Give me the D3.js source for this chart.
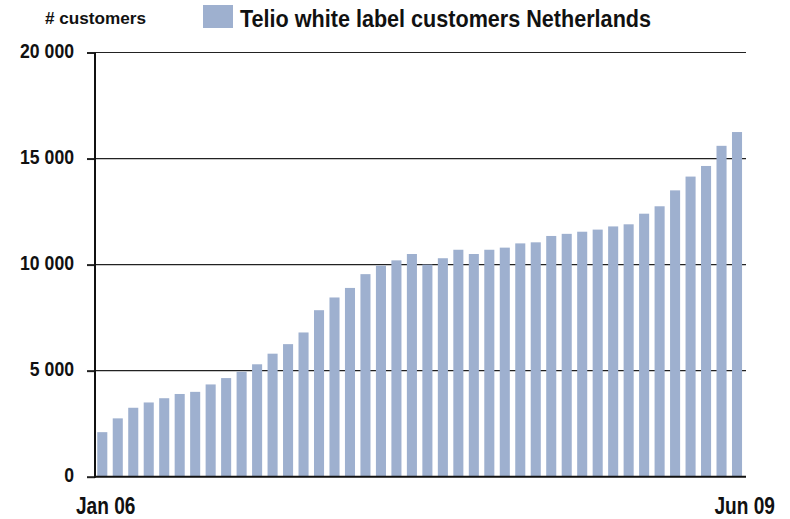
<!doctype html>
<html>
<head>
  <meta charset="utf-8">
  <script src="https://d3js.org/d3.v7.min.js"></script>
  <style>
    body { margin: 0; background: #fff; }
    text { font-family: "Liberation Sans", Arial, sans-serif; font-weight: bold; fill: #111; }
  </style>
</head>
<body>
<script>
  // monthly customers, Jan 06 .. Jun 09
  var months = d3.range(42).map(function(i){ return "m" + i; });
  var customers = [
    2100, 2750, 3250, 3500, 3700, 3900, 4000, 4350, 4650, 4950,
    5300, 5800, 6250, 6800, 7850, 8450, 8900, 9550, 9950, 10200,
    10500, 10000, 10300, 10700, 10500, 10700, 10800, 11000, 11050, 11350,
    11450, 11550, 11650, 11800, 11900, 12400, 12750, 13500, 14150, 14650,
    15600, 16250
  ];
  var yTicks = [0, 5000, 10000, 15000, 20000];
  var xLabels = ["Jan 06", "Jun 09"];
  var seriesName = "Telio white label customers Netherlands";
  var unitLabel = "# customers";
  var barColor = "#9eb0cf";

  var w = 790, h = 519;
  var svg = d3.select("body").append("svg")
    .attr("width", w)
    .attr("height", h);

  // the original uses a condensed face, so squeeze the text horizontally
  function squeeze(sel, f) {
    sel.each(function(){
      var l = this.getComputedTextLength();
      d3.select(this).attr("textLength", l * f).attr("lengthAdjust", "spacingAndGlyphs");
    });
  }

  var x = d3.scaleBand()
    .domain(months)
    .range([95.4, 743.9])
    .paddingInner(0.35)
    .paddingOuter(0.12);

  var y = d3.scaleLinear()
    .domain([0, 20000])
    .range([476.7, 52.5]);

  // grid lines
  svg.selectAll(".grid")
    .data(yTicks.filter(function(d){ return d > 0; }))
    .enter().append("line")
      .attr("class", "grid")
      .attr("x1", 95).attr("x2", 746)
      .attr("y1", function(d){ return y(d); })
      .attr("y2", function(d){ return y(d); })
      .style("stroke", "#222")
      .style("stroke-width", 1.2);

  svg.selectAll(".bar")
    .data(customers)
    .enter().append("rect")
      .attr("class", "bar")
      .attr("x", function(d, i){ return x(months[i]); })
      .attr("width", x.bandwidth())
      .attr("y", function(d){ return y(d); })
      .attr("height", function(d){ return y(0) - y(d); })
      .style("fill", barColor);

  // y axis
  var yAxis = d3.axisLeft(y)
    .tickValues(yTicks)
    .tickSize(8)
    .tickPadding(13)
    .tickFormat(function(d){ return d3.format(",")(d).replace(/,/g, " "); });

  var ga = svg.append("g")
    .attr("transform", "translate(95,0)")
    .call(yAxis);
  ga.select(".domain").remove();
  ga.selectAll(".tick line").style("stroke", "#222").style("stroke-width", 2);
  ga.selectAll(".tick text")
    .attr("dy", "0.24em")
    .style("font-size", "21px")
    .style("fill", "#111")
    .call(squeeze, 0.84);
  ga.attr("font-family", null).attr("font-size", null);

  svg.append("line")
    .attr("x1", 95).attr("x2", 95)
    .attr("y1", y(20000)).attr("y2", y(0) + 1)
    .style("stroke", "#111").style("stroke-width", 2);
  svg.append("line")
    .attr("x1", 94).attr("x2", 746)
    .attr("y1", y(0)).attr("y2", y(0))
    .style("stroke", "#111").style("stroke-width", 2);

  // x labels
  svg.append("text")
    .attr("x", 76).attr("y", 514)
    .style("font-size", "23px")
    .text(xLabels[0])
    .call(squeeze, 0.83);
  svg.append("text")
    .attr("x", 775).attr("y", 514)
    .attr("text-anchor", "end")
    .style("font-size", "23px")
    .text(xLabels[1])
    .call(squeeze, 0.83);

  // unit label
  svg.append("text")
    .attr("x", 45).attr("y", 24)
    .style("font-size", "16px")
    .text(unitLabel)
    .attr("textLength", 101).attr("lengthAdjust", "spacingAndGlyphs");

  // legend
  svg.append("rect")
    .attr("x", 203).attr("y", 5)
    .attr("width", 30).attr("height", 23)
    .style("fill", barColor);
  svg.append("text")
    .attr("x", 240).attr("y", 27)
    .style("font-size", "23px")
    .text(seriesName)
    .attr("textLength", 411).attr("lengthAdjust", "spacingAndGlyphs");
</script>
</body>
</html>
